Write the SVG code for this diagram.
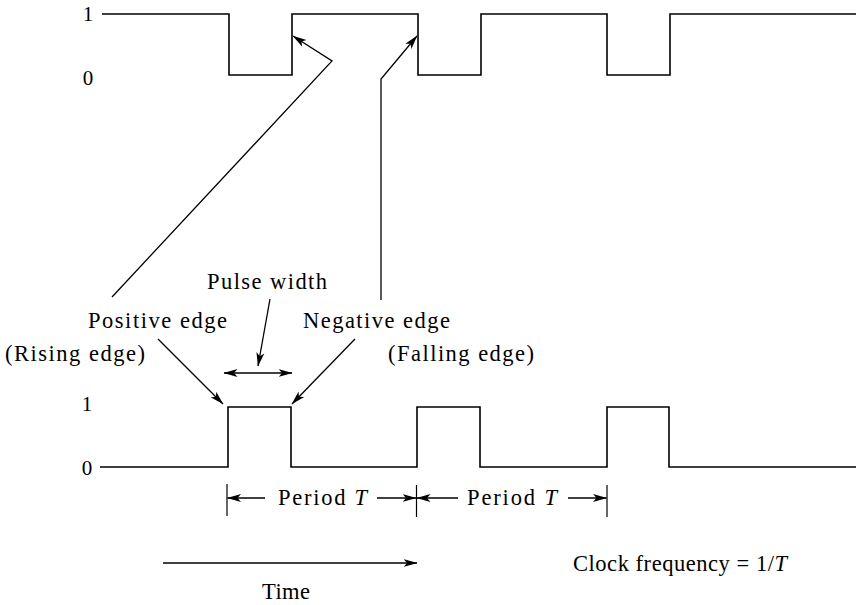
<svg xmlns="http://www.w3.org/2000/svg" width="856" height="605" viewBox="0 0 856 605">
<defs>
<style>
.wave{fill:none;stroke:#000;stroke-width:1.6}
.ln{fill:none;stroke:#000;stroke-width:1.3}
.bar{stroke:#000;stroke-width:1.2}
text{font-family:"Liberation Serif","Times New Roman",serif;font-size:22.5px;fill:#000}
.lv{text-anchor:middle;font-size:21px}
.it{font-style:italic}
</style>
<marker id="ah" markerWidth="15" markerHeight="9" refX="13.5" refY="4.5" orient="auto-start-reverse" markerUnits="userSpaceOnUse">
<path d="M0,0.5 L14,4.5 L0,8.5 L3.5,4.5 z" fill="#000"/>
</marker>
</defs>
<rect width="856" height="605" fill="#fff"/>

<g id="top-waveform">
<polyline class="wave" points="102,14 229,14 229,75 292,75 292,14 418,14 418,75 481,75 481,14 607,14 607,75 670,75 670,14 856,14"/>
<text class="lv" x="88" y="21">1</text>
<text class="lv" x="88" y="85">0</text>
</g>

<g id="bottom-waveform">
<polyline class="wave" points="100,467 228,467 228,407 291,407 291,467 417,467 417,407 480,407 480,467 607,467 607,407 669,407 669,467 856,467"/>
<text class="lv" x="87" y="411">1</text>
<text class="lv" x="87" y="475">0</text>
</g>

<g id="label-positive-edge">
<text x="88" y="328" textLength="139" lengthAdjust="spacing">Positive edge</text>
<text x="5" y="361" textLength="140" lengthAdjust="spacing">(Rising edge)</text>
</g>
<g id="label-negative-edge">
<text x="303" y="328" textLength="147" lengthAdjust="spacing">Negative edge</text>
<text x="388" y="361" textLength="146" lengthAdjust="spacing">(Falling edge)</text>
</g>
<g id="label-pulse-width">
<text x="207" y="289" textLength="120" lengthAdjust="spacing">Pulse width</text>
</g>
<g id="label-period-1">
<text x="278" y="505" textLength="89" lengthAdjust="spacing">Period <tspan class="it">T</tspan></text>
</g>
<g id="label-period-2">
<text x="467" y="505" textLength="90" lengthAdjust="spacing">Period <tspan class="it">T</tspan></text>
</g>
<g id="label-time">
<text x="262" y="599" textLength="48" lengthAdjust="spacing">Time</text>
</g>
<g id="label-frequency">
<text x="573" y="571" textLength="214" lengthAdjust="spacing">Clock frequency = 1/<tspan class="it">T</tspan></text>
</g>

<g id="connectors">
<polyline class="ln" points="112,297 332,61 293,36" marker-end="url(#ah)"/>
<polyline class="ln" points="381,300 381,79 417,36" marker-end="url(#ah)"/>
<line class="ln" x1="158" y1="339" x2="223" y2="404" marker-end="url(#ah)"/>
<line class="ln" x1="355" y1="339" x2="292" y2="404" marker-end="url(#ah)"/>
<line class="ln" x1="270" y1="299" x2="258" y2="366" marker-end="url(#ah)"/>
<line class="ln" x1="224" y1="373" x2="292" y2="373" marker-start="url(#ah)" marker-end="url(#ah)"/>
<line class="bar" x1="227" y1="484" x2="227" y2="516"/>
<line class="bar" x1="416.5" y1="485" x2="416.5" y2="517"/>
<line class="bar" x1="607" y1="485" x2="607" y2="517"/>
<line class="ln" x1="265" y1="498" x2="227.5" y2="498" marker-end="url(#ah)"/>
<line class="ln" x1="377" y1="498" x2="416" y2="498" marker-end="url(#ah)"/>
<line class="ln" x1="458" y1="498" x2="417" y2="498" marker-end="url(#ah)"/>
<line class="ln" x1="568" y1="498" x2="606.5" y2="498" marker-end="url(#ah)"/>
<line class="ln" x1="163" y1="563" x2="417" y2="563" marker-end="url(#ah)"/>
</g>
</svg>
